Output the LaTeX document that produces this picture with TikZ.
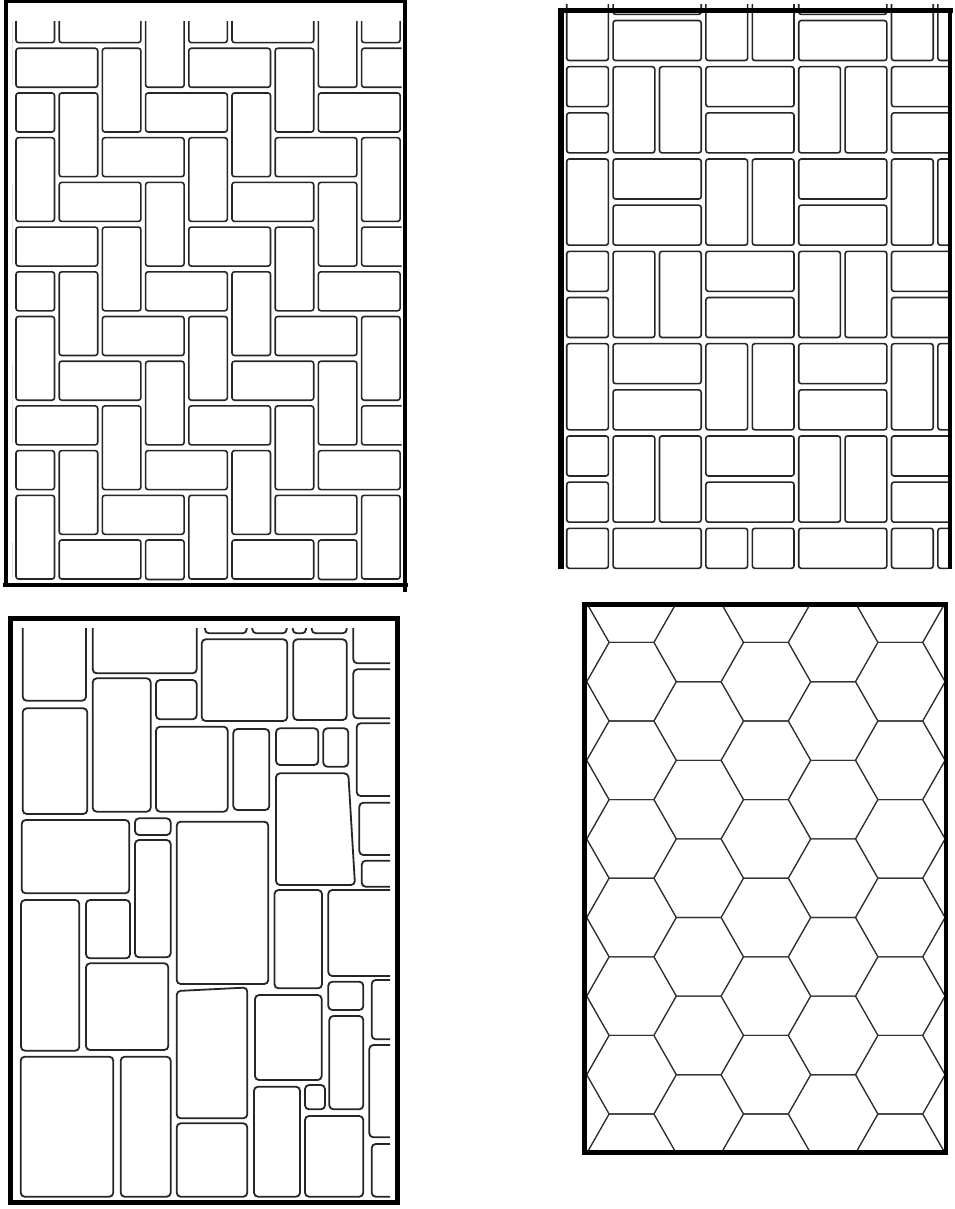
\documentclass[tikz,border=0pt]{standalone}
\begin{document}
\tikzset{
 brick/.style={draw=black!85, line width=1.6pt, rounded corners=2.5pt},
 stone/.style={draw=black!85, line width=1.8pt, rounded corners=4pt},
 hexline/.style={draw=black!80, line width=1.1pt, line join=round},
}
\begin{tikzpicture}[x=1pt,y=-1pt]
\useasboundingbox (0,0) rectangle (954,1209);
\fill[white] (0,0) rectangle (954,1209);

% ---------------- Panel 1: herringbone bricks ----------------
\begin{scope}
\clip (12,22) rectangle (401.5,583);
\foreach \row in {-2,...,11}{
  \foreach \col in {-1,...,8}{
    \pgfmathtruncatemacro{\kk}{mod(\col+\row+8,4)}
    \pgfmathsetmacro{\xa}{16+43.2*\col}
    \pgfmathsetmacro{\ya}{48.3+44.7*\row}
    \ifnum\kk=0
      \pgfmathsetmacro{\xl}{max(16,\xa)}
      \draw[brick] (\xl,\ya) rectangle ({\xa+81.7},{\ya+39});
    \fi
    \ifnum\kk=2
      \pgfmathsetmacro{\yb}{min(579.5,\ya+83.7)}
      \draw[brick] (\xa,\ya) rectangle ({\xa+38.5},\yb);
    \fi
  }
}
\end{scope}
\draw[line width=4pt] (6.2,0) -- (6.2,587);
\draw[line width=3.5pt] (4,1.5) -- (406.5,1.5);
\draw[line width=4pt] (404.5,0) -- (404.5,592);
\draw[line width=4pt] (3,585) -- (408,585);

% ---------------- Panel 2: basket weave ----------------
\begin{scope}
\clip (564,5) rectangle (948,569.5);
\foreach \m in {0,...,4}{
  \foreach \n in {-2,...,5}{
    \pgfmathtruncatemacro{\ori}{mod(\m+\n+10,2)}
    \pgfmathsetmacro{\xa}{566.7+46.4*(2*\m-1)}
    \pgfmathsetmacro{\xb}{566.7+46.4*(2*\m)}
    \pgfmathsetmacro{\ya}{66.7+46.16*(2*\n)}
    \pgfmathsetmacro{\yb}{66.7+46.16*(2*\n+1)}
    \ifnum\ori=0
      \pgfmathsetmacro{\xl}{max(566.7,\xa)}
      \draw[brick] (\xl,\ya) rectangle ({\xb+41.7},{min(568.3,\ya+40)});
      \draw[brick] (\xl,\yb) rectangle ({\xb+41.7},{\yb+40});
    \else
      \pgfmathsetmacro{\ye}{min(568.3,\yb+40)}
      \draw[brick] (\xa,\ya) rectangle ({\xa+41.7},\ye);
      \draw[brick] (\xb,\ya) rectangle ({\xb+41.7},\ye);
    \fi
  }
}
\end{scope}
\draw[line width=6pt] (561,8) -- (561,568.5);
\draw[line width=5pt] (558,10.5) -- (953,10.5);
\draw[line width=4.5pt] (950,8) -- (950,568.5);

% ---------------- Panel 3: random stones ----------------
\begin{scope}
\clip (14,628) rectangle (390,1199);
\draw[stone] (22.7,600) rectangle (86,700.7);
\draw[stone] (92.7,600) rectangle (196.7,673.3);
\draw[stone] (205,600) rectangle (246.7,633.3);
\draw[stone] (252.3,600) rectangle (286.7,633.3);
\draw[stone] (292.7,600) rectangle (306,633.3);
\draw[stone] (311.7,600) rectangle (346.7,633.3);
\draw[stone] (201.7,639.3) rectangle (287.3,721);
\draw[stone] (293.3,639.3) rectangle (346.7,720);
\draw[stone] (353.3,600) rectangle (400,663.3);
\draw[stone] (353.3,669.3) rectangle (400,718.3);
\draw[stone] (22.7,708.3) rectangle (87.3,814);
\draw[stone] (92.7,678.3) rectangle (150.7,811.7);
\draw[stone] (156,680) rectangle (196.7,719.3);
\draw[stone] (156,726.7) rectangle (227.7,811.7);
\draw[stone] (233.3,729) rectangle (269.3,810);
\draw[stone] (276,728.3) rectangle (318.3,765);
\draw[stone] (323.3,728.3) rectangle (348.3,766.7);
\draw[stone] (276,773.3) -- (348.3,773.3) -- (355,885) -- (276,885) -- cycle;
\draw[stone] (356.7,723.3) rectangle (400,796);
\draw[stone] (359.3,802.7) rectangle (400,855);
\draw[stone] (361.7,860.7) rectangle (400,886.7);
\draw[stone] (21.7,820) rectangle (129.3,893.3);
\draw[stone] (135,818.3) rectangle (170.7,835);
\draw[stone] (135,840) rectangle (170.7,957.3);
\draw[stone] (176.7,821.7) rectangle (268.3,984);
\draw[stone] (21,900) rectangle (79.3,1050.7);
\draw[stone] (86,900) rectangle (130,958.3);
\draw[stone] (274.5,890) rectangle (322,988.3);
\draw[stone] (328.3,890) rectangle (400,976);
\draw[stone] (86,963.3) rectangle (168.3,1050);
\draw[stone] (328.3,981.7) rectangle (363.3,1010);
\draw[stone] (371.7,980) rectangle (400,1039.3);
\draw[stone] (369.3,1045) rectangle (400,1137.3);
\draw[stone] (371.7,1144) rectangle (400,1196.7);
\draw[stone] (329.3,1016) rectangle (363.3,1109.3);
\draw[stone] (176.7,991) -- (247.3,987.5) -- (247.3,1118.3) -- (176.7,1118.3) -- cycle;
\draw[stone] (255,995) rectangle (321.7,1080);
\draw[stone] (20.7,1056.7) rectangle (113.3,1196.7);
\draw[stone] (120.7,1056.7) rectangle (170.7,1196.7);
\draw[stone] (176.7,1123.3) rectangle (247.3,1196.7);
\draw[stone] (254,1086.7) rectangle (300,1196.7);
\draw[stone] (305,1085) rectangle (325,1109.3);
\draw[stone] (305,1116) rectangle (363.3,1196.7);
\end{scope}
\draw[line width=5pt] (10.5,618) rectangle (397.5,1202.5);

% ---------------- Panel 4: hexagons ----------------
\begin{scope}
\clip (584.7,604.7) rectangle (945.8,1152.5);
\foreach \i in {-1,...,5}{
  \foreach \j in {-1,...,7}{
    \pgfmathtruncatemacro{\odd}{mod(\i+2,2)}
    \pgfmathsetmacro{\cx}{631.5+67.2*\i}
    \pgfmathsetmacro{\cy}{681.7+78.6*\j+39.3*\odd}
    \draw[hexline] (\cx-44.8,\cy) -- (\cx-22.4,\cy-39.3) -- (\cx+22.4,\cy-39.3)
      -- (\cx+44.8,\cy) -- (\cx+22.4,\cy+39.3) -- (\cx-22.4,\cy+39.3) -- cycle;
  }
}
\end{scope}
\draw[line width=4.5pt] (584.7,604.7) rectangle (945.8,1152.5);
\end{tikzpicture}
\end{document}
